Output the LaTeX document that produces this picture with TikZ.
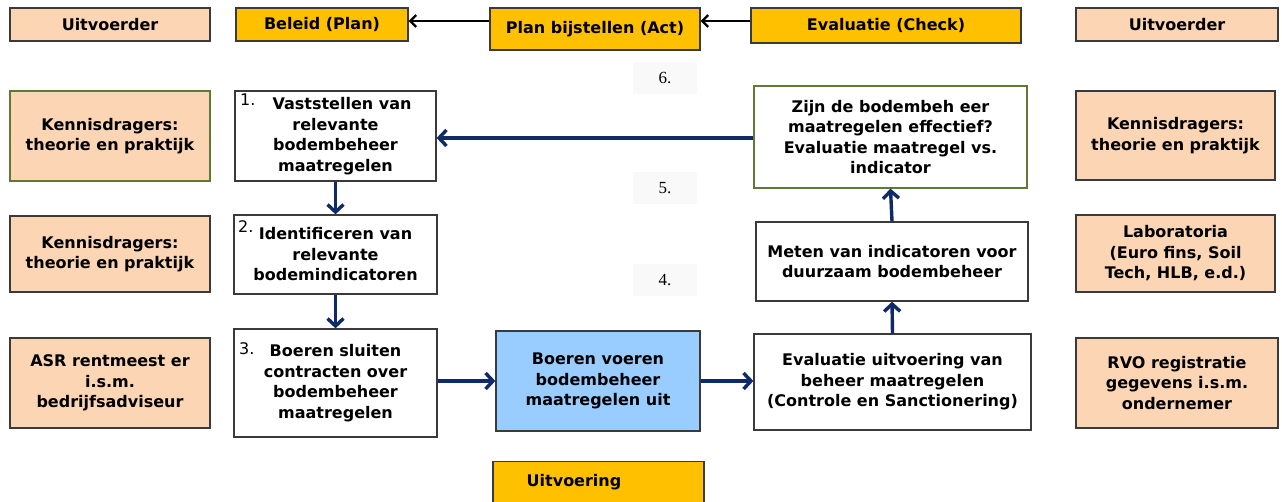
\documentclass[tikz,border=0pt]{standalone}
\usepackage{fontspec}
\setmainfont{DejaVu Sans}
\newfontfamily\numfont{Liberation Serif}
\usetikzlibrary{arrows.meta}
\definecolor{peach}{HTML}{FCD5B4}
\definecolor{gold}{HTML}{FFC000}
\definecolor{sky}{HTML}{99CCFF}
\definecolor{olive}{HTML}{5E7A36}
\definecolor{navy}{HTML}{0F2A66}
\definecolor{edge}{HTML}{3A3A3A}
\begin{document}
\begin{tikzpicture}[x=1pt,y=-1pt,
  base/.style={draw=edge,line width=1.3pt,inner sep=0pt,align=center,
    font=\bfseries\fontsize{16}{20.5}\selectfont},
  peachbox/.style={base,fill=peach},
  goldbox/.style={base,fill=gold},
  whitebox/.style={base,fill=white},
  bluebox/.style={base,fill=sky},
  greenedge/.style={draw=olive},
  numlab/.style={font=\fontsize{16}{18}\selectfont,inner sep=0pt},
  stepnum/.style={font=\numfont\fontsize{17}{19}\selectfont,fill=black!2.5,minimum width=64pt,minimum height=32pt,inner sep=0pt},
  navyarrow/.style={draw=navy,line width=3.4pt,-{Straight Barb[length=7.5pt,width=16pt,line width=3.4pt]}},
  blkarrow/.style={draw=black,line width=2.2pt,-{Straight Barb[length=6pt,width=12pt,line width=2.2pt]}}
]
\useasboundingbox (0,0) rectangle (1282,502);
\fill[white] (0,0) rectangle (1282,502);

% top row
\node[peachbox,minimum width=200pt,minimum height=33pt] (uitL) at (110,24.5) {Uitvoerder};
\node[goldbox,minimum width=172pt,minimum height=33pt] (beleid) at (322,24.5) {Beleid (Plan)};
\node[goldbox,minimum width=210pt,minimum height=42pt] (act) at (595,29) {Plan bijstellen (Act)};
\node[goldbox,minimum width=270pt,minimum height=35pt] (check) at (886,25.5) {Evaluatie (Check)};
\node[peachbox,minimum width=202pt,minimum height=33pt] (uitR) at (1177,24.5) {Uitvoerder};

\coordinate (pa) at ([yshift=3.5pt]beleid.east);
\draw[blkarrow] (act.west |- pa) -- (pa);
\coordinate (pb) at ([yshift=8pt]act.east);
\draw[blkarrow] (check.west |- pb) -- (pb);

% step numbers in the middle
\node[stepnum] (n6) at (665,78) {6.};
\node[stepnum] (n5) at (665,188) {5.};
\node[stepnum] (n4) at (665,280) {4.};

% row 1
\node[peachbox,greenedge,minimum width=200pt,minimum height=90pt] (kd1) at (110,136) {Kennisdragers:\\theorie en praktijk};
\node[whitebox,minimum width=201pt,minimum height=90pt] (b1) at (335.5,136) {\hspace*{13pt}Vaststellen van\\relevante\\bodembeheer\\maatregelen};
\node[numlab,anchor=north west] (l1) at (240,94) {1.};
\node[whitebox,greenedge,minimum width=273pt,minimum height=102pt] (zijn) at (890.5,137) {Zijn de bodembeh eer\\maatregelen effectief?\\Evaluatie maatregel vs.\\indicator};
\node[peachbox,minimum width=199pt,minimum height=89pt] (kdR) at (1175.5,135.5) {Kennisdragers:\\theorie en praktijk};

% row 2
\node[peachbox,minimum width=200pt,minimum height=76pt] (kd2) at (110,254) {Kennisdragers:\\theorie en praktijk};
\node[whitebox,minimum width=203pt,minimum height=79pt] (b2) at (335.5,254.5) {Identificeren van\\relevante\\bodemindicatoren};
\node[numlab,anchor=north west] (l2) at (238,220) {2.};
\node[whitebox,minimum width=272pt,minimum height=79pt] (meten) at (892,261.5) {Meten van indicatoren voor\\duurzaam bodembeheer};
\node[peachbox,minimum width=199pt,minimum height=77pt] (lab) at (1175.5,253.5) {Laboratoria\\(Euro fins, Soil\\Tech, HLB, e.d.)};

% row 3
\node[peachbox,minimum width=200pt,minimum height=90pt] (asr) at (110,383) {ASR rentmeest er\\i.s.m.\\bedrijfsadviseur};
\node[whitebox,minimum width=203pt,minimum height=108pt] (b3) at (335.5,383) {Boeren sluiten\\contracten over\\bodembeheer\\maatregelen};
\node[numlab,anchor=north west] (l3) at (239,342) {3.};
\node[bluebox,minimum width=204pt,minimum height=100pt] (blue) at (598,381) {Boeren voeren\\bodembeheer\\maatregelen uit};
\node[whitebox,minimum width=277pt,minimum height=96pt] (evalu) at (892.5,382) {Evaluatie uitvoering van\\beheer maatregelen\\(Controle en Sanctionering)};
\node[peachbox,minimum width=202pt,minimum height=90pt] (rvo) at (1177,383) {RVO registratie\\gegevens i.s.m.\\ondernemer};

% bottom
\node[goldbox,minimum width=211pt,minimum height=44pt,anchor=north] (uitv) at (598.5,461) {};
\node[font=\bfseries\fontsize{16}{20.5}\selectfont,inner sep=0pt] (uitvt) at (574,482) {Uitvoering};

% navy arrows
\draw[navyarrow] (zijn.west |- 0,138) -- (b1.east |- 0,138);
\draw[navyarrow] (b1.south) -- (b2.north);
\draw[navyarrow] (b2.south) -- (b3.north);
\draw[navyarrow] (b3.east |- blue.west) -- (blue.west);
\draw[navyarrow] (blue.east) -- (evalu.west |- blue.east);
\draw[navyarrow] (evalu.north) -- (meten.south);
\draw[navyarrow] (meten.north) -- (zijn.south);
\end{tikzpicture}
\end{document}
